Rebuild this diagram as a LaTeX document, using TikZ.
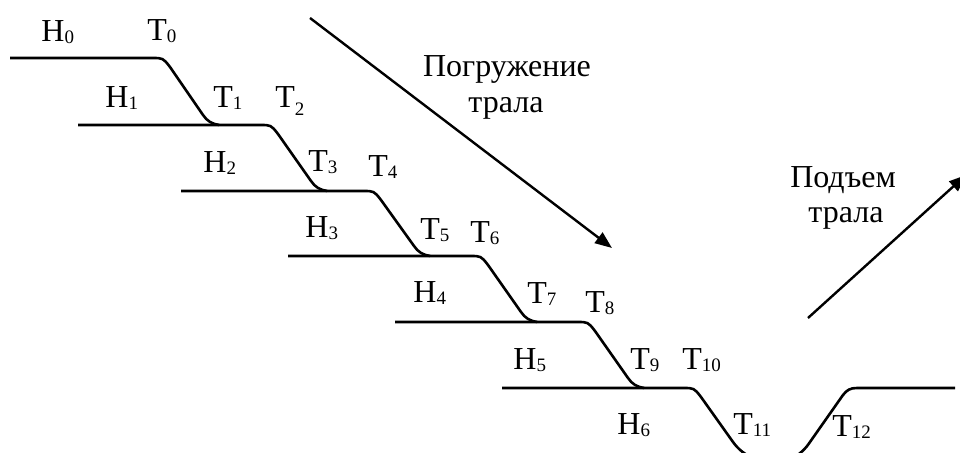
\documentclass[tikz,border=0pt]{standalone}
\usepackage{fontspec}
\setmainfont{Liberation Serif}
\usetikzlibrary{arrows.meta}
\newcommand{\sbs}[2][0.8pt]{\raisebox{-#1}{\fontsize{9.5}{9.5}\selectfont #2}}
\tikzset{
  lab/.style={anchor=base west, inner sep=0pt, font=\fontsize{16}{19}\selectfont},
  ttl/.style={anchor=base, inner sep=0pt, font=\fontsize{16}{19}\selectfont},
  prof/.style={line width=1.3pt, line join=round},
  dirarrow/.style={line width=1.2pt, -{Triangle[length=8.5pt,width=6.5pt]}}
}
\begin{document}
\begin{tikzpicture}[x=0.5pt, y=-0.5pt]
\useasboundingbox (0,0) rectangle (960,453);
\clip (0,0) rectangle (960,453);
% descending steps
\foreach \xs/\xe/\y/\h in {10/152/58/67, 78/260/125/66, 181/363/191/65, 288/470/256/66, 395/577/322/66}{
  \draw[prof] (\xs,\y) -- (\xe,\y) .. controls (\xe+11,\y) .. (\xe+18,\y+9)
    -- (\xe+51,\y+\h-10) .. controls (\xe+55,\y+\h-4) and (\xe+60,\y+\h-1) .. (\xe+67,\y+\h);
}
% last level, bottom and rise
\draw[prof] (502,388) -- (683,388) .. controls (694,388) .. (701,397)
  -- (733,442) .. controls (738,449) and (745,455) .. (755,459) -- (790,459)
  .. controls (800,455) and (806,448) .. (810,442) -- (843,395)
  .. controls (847,390) and (850,388) .. (857,388) -- (955,388);
% labels
\node[lab] (h0) at (41,42) {H\sbs{0}};
\node[lab] (t0) at (147,41) {T\sbs{0}};
\node[lab] (h1) at (105,108) {H\sbs{1}};
\node[lab] (t1) at (213,108) {T\sbs{1}};
\node[lab] (t2) at (275,108) {T\sbs[4pt]{2}};
\node[lab] (h2) at (203,173) {H\sbs{2}};
\node[lab] (t3) at (308,172) {T\sbs{3}};
\node[lab] (t4) at (368,177) {T\sbs{4}};
\node[lab] (h3) at (305,238) {H\sbs{3}};
\node[lab] (t5) at (420,240) {T\sbs{5}};
\node[lab] (t6) at (470,243) {T\sbs{6}};
\node[lab] (h4) at (413,303) {H\sbs{4}};
\node[lab] (t7) at (527,304) {T\sbs{7}};
\node[lab] (t8) at (585,313) {T\sbs{8}};
\node[lab] (h5) at (513,370) {H\sbs{5}};
\node[lab] (t9) at (630,370) {T\sbs{9}};
\node[lab] (t10) at (682,370) {T\sbs{10}};
\node[lab] (h6) at (617,435) {H\sbs{6}};
\node[lab] (t11) at (733,435) {T\sbs{11}};
\node[lab] (t12) at (832,437) {T\sbs{12}};
% titles
\node[ttl] (pg1) at (507,77) {Погружение};
\node[ttl] (pg2) at (506,113) {трала};
\node[ttl] (pd1) at (843,188) {Подъем};
\node[ttl] (pd2) at (846,223) {трала};
% arrows
\coordinate (a1s) at (310,18);
\coordinate (a1e) at (612,248);
\coordinate (a2s) at (808,318);
\coordinate (a2e) at (966,175);
\draw[dirarrow] (a1s) -- (a1e);
\draw[dirarrow] (a2s) -- (a2e);
\end{tikzpicture}
\end{document}
